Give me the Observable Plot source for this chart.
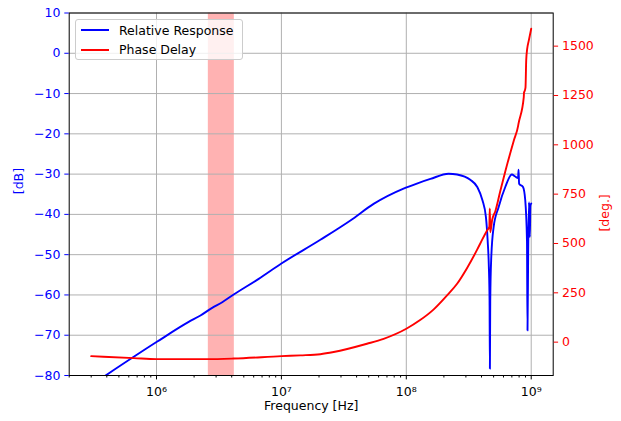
<!DOCTYPE html>
<html>
<head>
<meta charset="utf-8">
<script src="https://cdn.jsdelivr.net/npm/d3@7"></script>
<script src="https://cdn.jsdelivr.net/npm/@observablehq/plot@0.6"></script>
<style>
  html, body { margin: 0; padding: 0; background: white; }
  #wrap { position: relative; width: 621px; height: 421px; font-family: "DejaVu Sans", sans-serif; }
  #legend { position: absolute; left: 75px; top: 19px; width: 168px; height: 41px;
    border: 1px solid #cccccc; border-radius: 3px; background: rgba(255,255,255,0.8);
    box-sizing: border-box; font-size: 12.5px; color: black; }
  .row { position: absolute; left: 0; height: 16px; display: flex; align-items: center; }
  .sw { width: 28px; height: 2px; margin-left: 5px; margin-right: 10px; }
</style>
</head>
<body>
<div id="wrap"><div id="legend"></div></div>
<script>
// ---- data ----
const seriesNames = ["Relative Response", "Phase Delay"];
const seriesColors = ["blue", "red"];

const respFreq = [3e5, 1e6, 1.81e6, 2.25e6, 2.79e6, 3.36e6, 4.15e6, 6.58e6, 1e7, 2.05e7, 3.57e7, 5.47e7, 9.5e7, 1.2e8, 1.56e8, 2.18e8, 2.55e8, 3.25e8, 3.7e8, 4.07e8, 4.34e8, 4.48e8, 4.58e8, 4.64e8, 4.67e8, 4.70e8, 4.79e8, 5.0e8, 5.48e8, 6.2e8, 7.0e8, 7.45e8, 7.85e8, 7.92e8, 8.0e8, 8.6e8, 8.96e8, 9.25e8, 9.34e8, 9.46e8, 9.6e8, 9.75e8, 9.85e8, 1.0e9];
const respDb   = [-82.4, -71.7, -66.7, -65.1, -63.2, -61.8, -59.9, -56.0, -52.2, -46.3, -41.5, -37.4, -33.6, -32.4, -31.2, -29.9, -30.1, -31.4, -33.2, -36.5, -40.7, -46.5, -53.0, -61.3, -78.3, -61.3, -50.6, -43.2, -38.2, -33.2, -30.1, -30.6, -31.0, -28.9, -32.4, -33.2, -36.5, -46.5, -68.8, -49.0, -37.0, -45.6, -37.8, -37.3];

const phaseFreq = [3e5, 6.6e5, 1e6, 2.54e6, 4.15e6, 1e7, 1.42e7, 2.05e7, 2.62e7, 4.84e7, 6.58e7, 1e8, 1.29e8, 1.65e8, 2.12e8, 2.55e8, 3.06e8, 3.7e8, 3.91e8, 4.42e8, 4.62e8, 4.66e8, 4.70e8, 4.87e8, 5.17e8, 5.65e8, 6.2e8, 7.26e8, 7.85e8, 7.9e8, 8.72e8, 8.76e8, 8.8e8, 9.0e8, 9.12e8, 9.29e8, 9.57e8, 1.0e9];
const phaseDeg  = [-71, -81, -86, -86, -83, -71, -67, -61, -50, -8, 17, 68, 112, 165, 237, 296, 375, 470, 500, 565, 585, 677, 557, 620, 665, 765, 865, 1022, 1095, 1105, 1242, 1265, 1268, 1290, 1428, 1487, 1529, 1588];

const band = [{lo: 2.6e6, hi: 4.2e6}];

const xDomain = [2e5, 1.5e9];
const dbDomain = [-80, 10];
const degDomain = [-169, 1668];

const xMajor = [1e6, 1e7, 1e8, 1e9];
const xMajorLabels = ["10⁶", "10⁷", "10⁸", "10⁹"];
const dbTicks = [-80, -70, -60, -50, -40, -30, -20, -10, 0, 10];
const degTicks = [0, 250, 500, 750, 1000, 1250, 1500];

// ---- helpers ----
const k = (dbDomain[1] - dbDomain[0]) / (degDomain[1] - degDomain[0]);
const toDb = deg => dbDomain[0] + (deg - degDomain[0]) * k;
const fromDb = db => degDomain[0] + (db - dbDomain[0]) / k;
const fmtMinus = d => d < 0 ? "\u2212" + Math.abs(d) : String(d);

const resp = respFreq.map((f, i) => ({f, v: respDb[i]}));
const phase = phaseFreq.map((f, i) => ({f, v: toDb(phaseDeg[i])}));

const xMinor = [];
for (let e = 5; e <= 9; e++) for (let m = 2; m <= 9; m++) {
  const v = m * Math.pow(10, e);
  if (v >= xDomain[0] && v <= xDomain[1]) xMinor.push(v);
}

const font = "DejaVu Sans";
const plot = Plot.plot({
  width: 621, height: 421,
  marginLeft: 68.7, marginRight: 68.3, marginTop: 12.5, marginBottom: 46,
  style: {fontFamily: font, fontSize: "12.5px", background: "white", overflow: "visible"},
  x: {type: "log", domain: xDomain},
  y: {domain: dbDomain},
  marks: [
    Plot.rect(band, {x1: "lo", x2: "hi", y1: () => dbDomain[0], y2: () => dbDomain[1], fill: "red", fillOpacity: 0.3}),
    Plot.gridX(xMajor, {stroke: "#b0b0b0", strokeOpacity: 1, strokeWidth: 1}),
    Plot.gridY(dbTicks, {stroke: "#b0b0b0", strokeOpacity: 1, strokeWidth: 1}),
    Plot.line(resp, {x: "f", y: "v", stroke: seriesColors[0], strokeWidth: 1.9, strokeLinejoin: "round", curve: "monotone-x", clip: true}),
    Plot.line(phase, {x: "f", y: "v", stroke: seriesColors[1], strokeWidth: 1.9, strokeLinejoin: "round", curve: "monotone-x", clip: true}),
    Plot.frame({stroke: "black", strokeWidth: 1}),
    Plot.axisX(xMajor, {tickSize: 4.4, tickPadding: 7, tickFormat: (d) => xMajorLabels[xMajor.indexOf(d)], label: null}),
    Plot.axisX(xMinor, {tickSize: 2.5, tickFormat: () => "", label: null}),
    Plot.axisY(dbTicks, {anchor: "left", tickSize: 4.4, tickPadding: 4.4, tickFormat: fmtMinus, color: seriesColors[0], label: null}),
    Plot.axisY(degTicks.map(toDb), {anchor: "right", tickSize: 4.4, tickPadding: 4.4, tickFormat: d => String(Math.round(fromDb(d))), color: seriesColors[1], label: null}),
    Plot.text(["Frequency [Hz]"], {frameAnchor: "bottom", dy: 34, fill: "black"}),
    Plot.text(["[dB]"], {frameAnchor: "left", dx: -50, rotate: -90, fill: seriesColors[0]}),
    Plot.text(["[deg.]"], {frameAnchor: "right", dx: 52, rotate: -90, fill: seriesColors[1]})
  ]
});
const wrap = document.getElementById("wrap");
wrap.insertBefore(plot, wrap.firstChild);

// legend
const legend = document.getElementById("legend");
seriesNames.forEach((name, i) => {
  const row = document.createElement("div");
  row.className = "row";
  row.style.top = (i === 0 ? 2 : 21.5) + "px";
  const sw = document.createElement("div");
  sw.className = "sw";
  sw.style.background = seriesColors[i];
  const t = document.createElement("span");
  t.textContent = name;
  row.appendChild(sw); row.appendChild(t);
  legend.appendChild(row);
});
</script>
</body>
</html>
